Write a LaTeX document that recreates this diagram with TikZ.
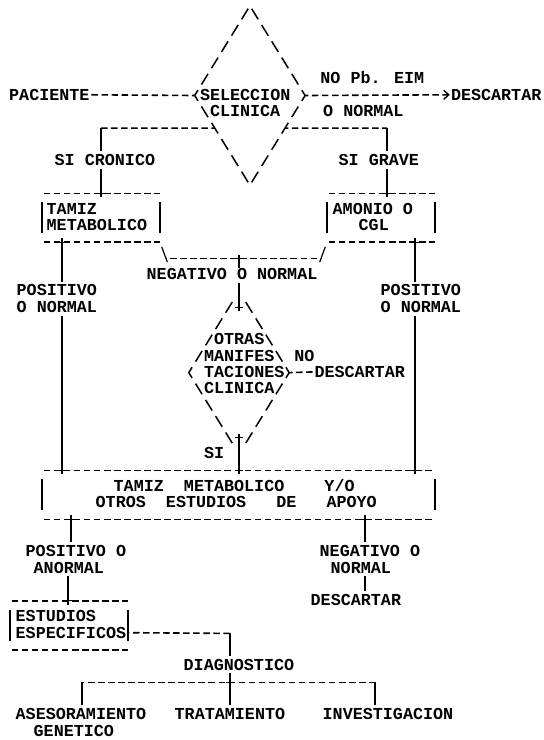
\documentclass[tikz,border=0pt]{standalone}
\usepackage{fontspec}
\newfontfamily\mono{Liberation Mono}
\usetikzlibrary{calc,shapes.geometric,shapes.misc,arrows.meta}
\begin{document}
\begin{tikzpicture}[x=1pt,y=-16.3pt,
  tx/.style={font=\mono\bfseries\fontsize{16.73pt}{16.3pt}\selectfont, inner sep=0pt, anchor=base west, text=black},
  hy/.style={line width=1.6pt, dash pattern=on 6.5pt off 3.54pt, dash phase=#1},
  hy/.default=8.27pt,
  vbar/.style={line width=1.2pt},
  slashline/.style={line width=1.5pt, dash pattern=on 12.5pt off 6.64pt, dash phase=15.82pt},
  dia/.style={diamond, draw=none, inner sep=0pt, outer sep=0pt},
  boxframe/.style={rectangle, draw=none, inner sep=0pt, outer sep=0pt, minimum height=48.9pt},
  jn/.style={cross out, draw, rotate=45, minimum size=5.5pt, inner sep=0pt, outer sep=0pt, line width=1.2pt},
  arrowtip/.style={-{Straight Barb[length=5pt,width=9pt,line width=1.4pt]}}
]
\path[use as bounding box, fill=white] (0pt,0pt) rectangle (544pt,-740pt);
\begin{scope}[yshift=-14pt]
% ---------- diamond 1
\node[dia, minimum width=110.4pt, minimum height=179.3pt] (sel) at (249.9,5) {};
\draw[slashline] (sel.north) -- (sel.west) -- (sel.south) -- (sel.east) -- cycle;
\node[tx] (selA) at (199.8,5.294) {SELECCION};
\node[tx] (selB) at (209.8,6.294) {CLINICA};
\node[tx] (pac) at (9,5.294) {PACIENTE};
\draw[hy] (pac.east) -- (sel.west);
\node[tx] (nopb) at (320.2,4.294) {NO Pb. EIM};
\node[tx] (onor) at (323,6.294) {O NORMAL};
\node[tx] (des1) at (450.8,5.294) {DESCARTAR};
\draw[hy=3.19pt, arrowtip, shorten >=1pt] (sel.east) -- (des1.west);
% ---------- left branch
\coordinate (sL) at ($(sel.west)!0.3636!(sel.south)$);
\coordinate (cL) at (101,7);
\draw[hy=3.19pt] (sL) -- (cL);
\node[tx] (sicr) at (54.5,9.294) {SI CRONICO};
\node[boxframe, minimum width=118pt] (b1) at (101,12.5) {};
\draw[vbar, shorten >=3pt] (cL) -- (cL |- sicr.north);
\draw[vbar, shorten <=3pt] (cL |- sicr.south) -- (cL |- b1.north);
\node[jn] (j1) at (cL |- b1.north) {};
\node[tx] (t1a) at (46.5,12.294) {TAMIZ};
\node[tx] (t1b) at (46.5,13.294) {METABOLICO};
\draw[hy] (b1.north west) -- (b1.north east);
\draw[hy] (b1.south west) -- (b1.south east);
\draw[vbar] ($(b1.north west)+(0,0.55)$) -- ($(b1.south west)+(0,-0.55)$);
\draw[vbar] ($(b1.north east)+(0,0.55)$) -- ($(b1.south east)+(0,-0.55)$);
% ---------- right branch
\coordinate (sR) at ($(sel.east)!0.3636!(sel.south)$);
\coordinate (cR) at (387,7);
\draw[hy=3.19pt] (sR) -- (cR);
\node[tx] (sigr) at (338.5,9.294) {SI GRAVE};
\node[boxframe, minimum width=108pt] (b2) at (381,12.5) {};
\draw[vbar, shorten >=3pt] (cR) -- (cR |- sigr.north);
\draw[vbar, shorten <=3pt] (cR |- sigr.south) -- (cR |- b2.north);
\node[jn] (j2) at (cR |- b2.north) {};
\node[tx] (t2a) at (332.5,12.294) {AMONIO O};
\node[tx] (t2b) at (358.5,13.294) {CGL};
\draw[hy] (b2.north west) -- (b2.north east);
\draw[hy] (b2.south west) -- (b2.south east);
\draw[vbar] ($(b2.north west)+(0,0.55)$) -- ($(b2.south west)+(0,-0.55)$);
\draw[vbar] ($(b2.north east)+(0,0.55)$) -- ($(b2.south east)+(0,-0.55)$);
% ---------- middle bracket
\coordinate (nL) at (166,15);
\coordinate (nR) at (321,15);
\coordinate (nM) at (239,15);
\draw[vbar, shorten <=5pt, shorten >=-4pt] (b1.south east) -- (nL);
\draw[vbar, shorten <=5pt, shorten >=-4pt] (b2.south west) -- (nR);
\draw[hy=6.04pt] (nL) -- (nR);
\node[jn] (j3) at (nM) {};
\node[tx] (neg) at (146.5,16.294) {NEGATIVO O NORMAL};
\draw[vbar] (nM) -- (nM |- neg.north);
% ---------- diamond 2
\node[dia, minimum width=100.4pt, minimum height=163pt] (d2) at (239,22) {};
\draw[vbar, shorten <=3pt] (neg.south -| d2.north) -- ($(d2.north)+(0,1)$);
\node[jn] (j4) at ($(d2.north)+(0,1)$) {};
\draw[slashline] ($(d2.north)!0.1!(d2.west)$) -- (d2.west) -- ($(d2.west)!0.9!(d2.south)$);
\draw[slashline] ($(d2.north)!0.1!(d2.east)$) -- (d2.east) -- ($(d2.east)!0.9!(d2.south)$);
\node[tx] (o1) at (213.9,20.294) {OTRAS};
\node[tx] (o2) at (203.9,21.294) {MANIFES};
\node[tx] (o3) at (203.9,22.294) {TACIONES};
\node[tx] (o4) at (203.9,23.294) {CLINICA};
\node[tx] (no2) at (294.2,21.294) {NO};
\node[tx] (des2) at (314.3,22.294) {DESCARTAR};
\draw[hy=3.19pt] (d2.east) -- (des2.west);
\node[tx] (si2) at (203.9,27.294) {SI};
% ---------- big box
\node[boxframe, minimum width=393pt] (bb) at (238.5,29.5) {};
\draw[vbar] ($(d2.south)+(0,-1)$) -- (d2.south |- bb.north);
\node[jn] (j5) at ($(d2.south)+(0,-1)$) {};
\node[jn] (j6) at (d2.south |- bb.north) {};
\node[tx] (bt1) at (113.5,29.294) {TAMIZ~~METABOLICO~~~~Y/O};
\node[tx] (bt2) at (95.5,30.294) {OTROS~~ESTUDIOS~~~DE~~~APOYO};
\draw[hy] (bb.north west) -- (bb.north east);
\draw[hy] (bb.south west) -- (bb.south east);
\draw[vbar] ($(bb.north west)+(0,0.55)$) -- ($(bb.south west)+(0,-0.55)$);
\draw[vbar] ($(bb.north east)+(0,0.55)$) -- ($(bb.south east)+(0,-0.55)$);
% ---------- side verticals
\coordinate (vL) at (62,14);
\coordinate (vR) at (415,14);
\node[tx] (pl1) at (16.5,17.294) {POSITIVO};
\node[tx] (pl2) at (16.5,18.294) {O NORMAL};
\node[tx] (pr1) at (380.5,17.294) {POSITIVO};
\node[tx] (pr2) at (380.5,18.294) {O NORMAL};
\draw[vbar, shorten >=3pt] (vL) -- (vL |- pl1.north);
\draw[vbar, shorten <=3pt] (vL |- pl2.south) -- (vL |- bb.north);
\draw[vbar, shorten >=3pt] (vR) -- (vR |- pr1.north);
\draw[vbar, shorten <=3pt] (vR |- pr2.south) -- (vR |- bb.north);
\node[jn] (j7) at (vL) {};
\node[jn] (j8) at (vR) {};
\node[jn] (j9) at (vL |- bb.north) {};
\node[jn] (j10) at (vR |- bb.north) {};
% ---------- bottom part
\coordinate (wL) at (71,31);
\coordinate (wL2) at (68,36);
\coordinate (wR) at (365,31);
\node[tx] (pa1) at (25.5,33.294) {POSITIVO O};
\node[tx] (pa2) at (33.5,34.294) {ANORMAL};
\node[tx] (na1) at (319.5,33.294) {NEGATIVO O};
\node[tx] (na2) at (330.5,34.294) {NORMAL};
\node[tx] (des3) at (310.5,36.294) {DESCARTAR};
\draw[vbar, shorten >=3pt] (wL) -- (wL |- pa1.north);
\draw[vbar, shorten <=3pt] (wL2 |- pa2.south) -- (wL2);
\draw[vbar, shorten >=3pt] (wR) -- (wR |- na1.north);
\draw[vbar, shorten <=3pt, shorten >=3pt] (wR |- na2.south) -- (wR |- des3.north);
\node[jn] (j11) at (wL) {};
\node[jn] (j12) at (wR) {};
\node[jn] (j13) at (wL2) {};
\node[boxframe, minimum width=118pt] (b3) at (69,37.5) {};
\node[tx] (e1) at (15.5,37.294) {ESTUDIOS};
\node[tx] (e2) at (15.5,38.294) {ESPECIFICOS};
\draw[hy] (b3.north west) -- (b3.north east);
\draw[hy] (b3.south west) -- (b3.south east);
\draw[vbar] ($(b3.north west)+(0,0.55)$) -- ($(b3.south west)+(0,-0.55)$);
\draw[vbar] ($(b3.north east)+(0,0.55)$) -- ($(b3.south east)+(0,-0.55)$);
% ---------- diagnostico
\coordinate (dC) at (230,38);
\draw[hy=5.04pt] (b3.east |- e2.east) -- (dC);
\node[tx] (diag) at (183.5,40.294) {DIAGNOSTICO};
\draw[vbar, shorten >=3pt] (dC) -- (dC |- diag.north);
\coordinate (hM) at (230,41);
\coordinate (hL) at (82,41);
\coordinate (hR) at (375,41);
\draw[vbar, shorten <=2pt] (dC |- diag.south) -- (hM);
\draw[hy=4.04pt] (hL) -- (hR);
\node[jn] (j14) at (hM) {};
\node[tx] (as1) at (15.5,43.294) {ASESORAMIENTO};
\node[tx] (as2) at (33.5,44.294) {GENETICO};
\node[tx] (tr) at (174.5,43.294) {TRATAMIENTO};
\node[tx] (iv) at (322.5,43.294) {INVESTIGACION};
\draw[vbar, shorten >=3pt] (hL) -- (hL |- as1.north);
\draw[vbar, shorten >=3pt] (hM) -- (hM |- tr.north);
\draw[vbar, shorten >=3pt] (hR) -- (hR |- iv.north);
\end{scope}
\end{tikzpicture}
\end{document}
